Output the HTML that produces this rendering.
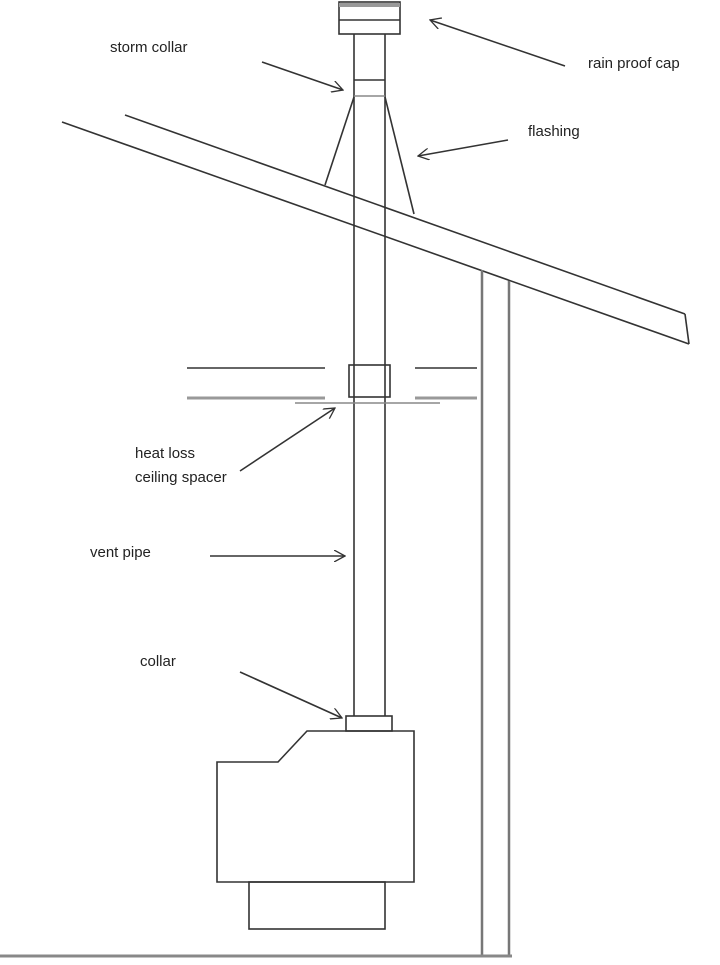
<!DOCTYPE html>
<html><head><style>
body{margin:0;background:#fff;}
svg text{font-family:"Liberation Sans",sans-serif;font-size:15px;fill:#222;}
</style></head><body>
<svg width="720" height="960" viewBox="0 0 720 960" xmlns="http://www.w3.org/2000/svg">
<defs><marker id="a" markerWidth="12" markerHeight="12" refX="11" refY="6" orient="auto" markerUnits="userSpaceOnUse"><path d="M0,0 L11,6 L0,12" fill="none" stroke="#333" stroke-width="1.3"/></marker></defs>
<g stroke="#333" stroke-width="1.6" fill="none">
<!-- cap -->
<rect x="339" y="2" width="61" height="32"/>
<line x1="339" y1="5" x2="400" y2="5" stroke="#999" stroke-width="4"/>
<line x1="339" y1="20" x2="400" y2="20"/>
<!-- pipe -->
<line x1="354" y1="34" x2="354" y2="716"/>
<line x1="385" y1="34" x2="385" y2="716"/>
<line x1="354" y1="80" x2="385" y2="80"/>
<line x1="354" y1="96" x2="385" y2="96" stroke="#888"/>
<!-- flashing -->
<line x1="354" y1="97" x2="325" y2="185"/>
<line x1="385" y1="97" x2="414" y2="214"/>
<!-- roof -->
<line x1="125" y1="115" x2="685" y2="314"/>
<line x1="62" y1="122" x2="689" y2="344"/>
<line x1="685" y1="314" x2="689" y2="344"/>
<!-- wall -->
<line x1="482" y1="270" x2="482" y2="955" stroke="#777" stroke-width="2.5"/>
<line x1="509" y1="281" x2="509" y2="955" stroke="#777" stroke-width="2.5"/>
<line x1="0" y1="956" x2="512" y2="956" stroke="#888" stroke-width="3"/>
<!-- ceiling -->
<line x1="187" y1="368" x2="325" y2="368"/>
<line x1="415" y1="368" x2="477" y2="368"/>
<line x1="187" y1="398" x2="325" y2="398" stroke="#999" stroke-width="3"/>
<line x1="415" y1="398" x2="477" y2="398" stroke="#999" stroke-width="3"/>
<line x1="295" y1="403" x2="440" y2="403" stroke="#888"/>
<rect x="349" y="365" width="41" height="32"/>
<!-- stove -->
<rect x="346" y="716" width="46" height="15"/>
<path d="M217,762 L278,762 L307,731 L414,731 L414,882 L217,882 Z"/>
<rect x="249" y="882" width="136" height="47"/>
<!-- arrows -->
<line x1="262" y1="62" x2="343" y2="90" marker-end="url(#a)"/>
<line x1="565" y1="66" x2="430" y2="20" marker-end="url(#a)"/>
<line x1="508" y1="140" x2="418" y2="156" marker-end="url(#a)"/>
<line x1="240" y1="471" x2="335" y2="408" marker-end="url(#a)"/>
<line x1="210" y1="556" x2="345" y2="556" marker-end="url(#a)"/>
<line x1="240" y1="672" x2="342" y2="718" marker-end="url(#a)"/>
</g>
<text x="110" y="52">storm collar</text>
<text x="588" y="68">rain proof cap</text>
<text x="528" y="136">flashing</text>
<text x="135" y="458">heat  loss</text>
<text x="135" y="482">ceiling spacer</text>
<text x="90" y="557">vent pipe</text>
<text x="140" y="666">collar</text>
</svg>
</body></html>
